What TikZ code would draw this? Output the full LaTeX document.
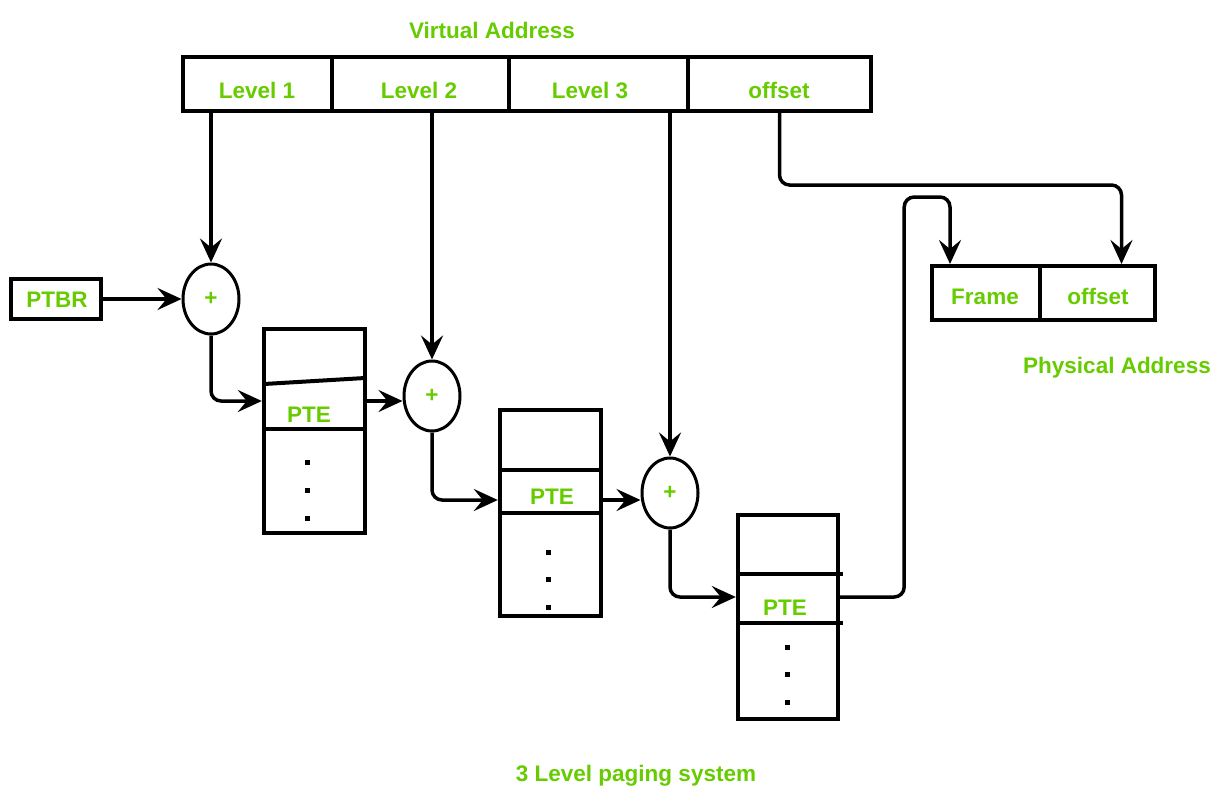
\documentclass[tikz,border=0pt]{standalone}
\usepackage{fontspec}
\setmainfont{Liberation Sans}
\usetikzlibrary{arrows.meta,shapes.geometric}
\definecolor{lbl}{RGB}{102,204,0}
\begin{document}
\begin{tikzpicture}[x=1pt,y=-1pt,
  txt/.style={text=lbl,font=\fontsize{22.5}{26}\selectfont\bfseries,inner sep=0pt,anchor=base},
  cell/.style={draw=black,line width=4pt,inner sep=0pt,minimum height=54pt},
  tbl/.style={draw=black,line width=4pt,inner sep=0pt},
  rowline/.style={line width=4pt},
  adder/.style={ellipse,draw=black,line width=3pt,minimum width=56pt,minimum height=70pt,inner sep=0pt,
    text=lbl,font=\fontsize{22.5}{26}\selectfont\bfseries},
  row/.style={inner sep=0pt,minimum height=10pt},
  arr/.style={line width=3.5pt,-{Stealth[length=24pt,width=22pt,inset=9pt]},rounded corners=10pt},
]
\useasboundingbox (0,0) rectangle (1220,787);
\fill[white] (0,0) rectangle (1220,787);

% Virtual address bar
\node[txt] (va) at (492,38.5) {Virtual Address};
\node[cell,minimum width=149pt] (l1) at (257.5,84) {};
\node[cell,minimum width=177pt] (l2) at (420.5,84) {};
\node[cell,minimum width=179pt] (l3) at (598.5,84) {};
\node[cell,minimum width=183pt] (off) at (779.5,84) {};
\node[txt] (l1t) at (257,98) {Level 1};
\node[txt] (l2t) at (419,98) {Level 2};
\node[txt] (l3t) at (590,98) {Level 3};
\node[txt] (offt) at (779,98) {offset};

% PTBR
\node[tbl,minimum width=90pt,minimum height=40pt] (ptbr) at (56,299) {};
\node[txt] (ptbrt) at (57,307) {PTBR};

% adders
\node[adder] (c1) at (211,299) {+};
\node[adder] (c2) at (432,396) {+};
\node[adder] (c3) at (670,493) {+};

% table 1
\node[tbl,minimum width=101pt,minimum height=204pt] (t1) at (314.5,431) {};
\draw[rowline] (264,384) -- (365,378);
\draw[rowline] (264,429) -- (365,429);
\node[txt] (t1p) at (309,422) {PTE};
\node[row,minimum width=105pt] (r1) at (314.5,401) {};
\fill (304.5,459.5) rectangle (309.5,464.5);
\fill (304.5,487.5) rectangle (309.5,492.5);
\fill (304.5,515.5) rectangle (309.5,520.5);

% table 2
\node[tbl,minimum width=101pt,minimum height=206pt] (t2) at (550.5,513) {};
\draw[rowline] (500,470) -- (601,470);
\draw[rowline] (500,513) -- (601,513);
\node[txt] (t2p) at (552,504) {PTE};
\node[row,minimum width=105pt] (r2) at (550.5,500) {};
\fill (545.5,549.5) rectangle (550.5,554.5);
\fill (545.5,576.5) rectangle (550.5,581.5);
\fill (545.5,604.5) rectangle (550.5,609.5);

% table 3
\node[tbl,minimum width=100pt,minimum height=204pt] (t3) at (788,617) {};
\draw[rowline] (738,574) -- (843,574);
\draw[rowline] (738,623) -- (843,623);
\node[txt] (t3p) at (785,615) {PTE};
\node[row,minimum width=104pt] (r3) at (788,597) {};
\fill (784.5,644.5) rectangle (789.5,649.5);
\fill (784.5,671.5) rectangle (789.5,676.5);
\fill (784.5,699.5) rectangle (789.5,704.5);

% physical address
\node[cell,minimum width=108pt] (fr) at (986,293) {};
\node[cell,minimum width=115pt] (po) at (1097.5,293) {};
\node[txt] (frt) at (985,304) {Frame};
\node[txt] (pot) at (1098,304) {offset};
\node[txt] (pa) at (1117,373) {Physical Address};

\node[txt] (title) at (636,781) {3 Level paging system};

% connectors
\draw[arr] (l1.south -| c1.north) -- (c1.north);
\draw[arr] (l2.south -| c2.north) -- (c2.north);
\draw[arr] (l3.south -| c3.north) -- (c3.north);
\draw[arr] (off.south) -- ++(0,72) -| ([xshift=24pt]po.north);
\draw[arr] (ptbr.east) -- (c1.west);
\draw[arr] (c1.south) |- (r1.west);
\draw[arr] (r1.east) -- (c2.west |- r1.east);
\draw[arr] (c2.south) |- (r2.west);
\draw[arr] (r2.east) -- (c3.west |- r2.east);
\draw[arr] (c3.south) |- (r3.west);
\draw[arr] (r3.east) -| ++(64,-400) -| ([xshift=-36pt]fr.north);
\end{tikzpicture}
\end{document}
